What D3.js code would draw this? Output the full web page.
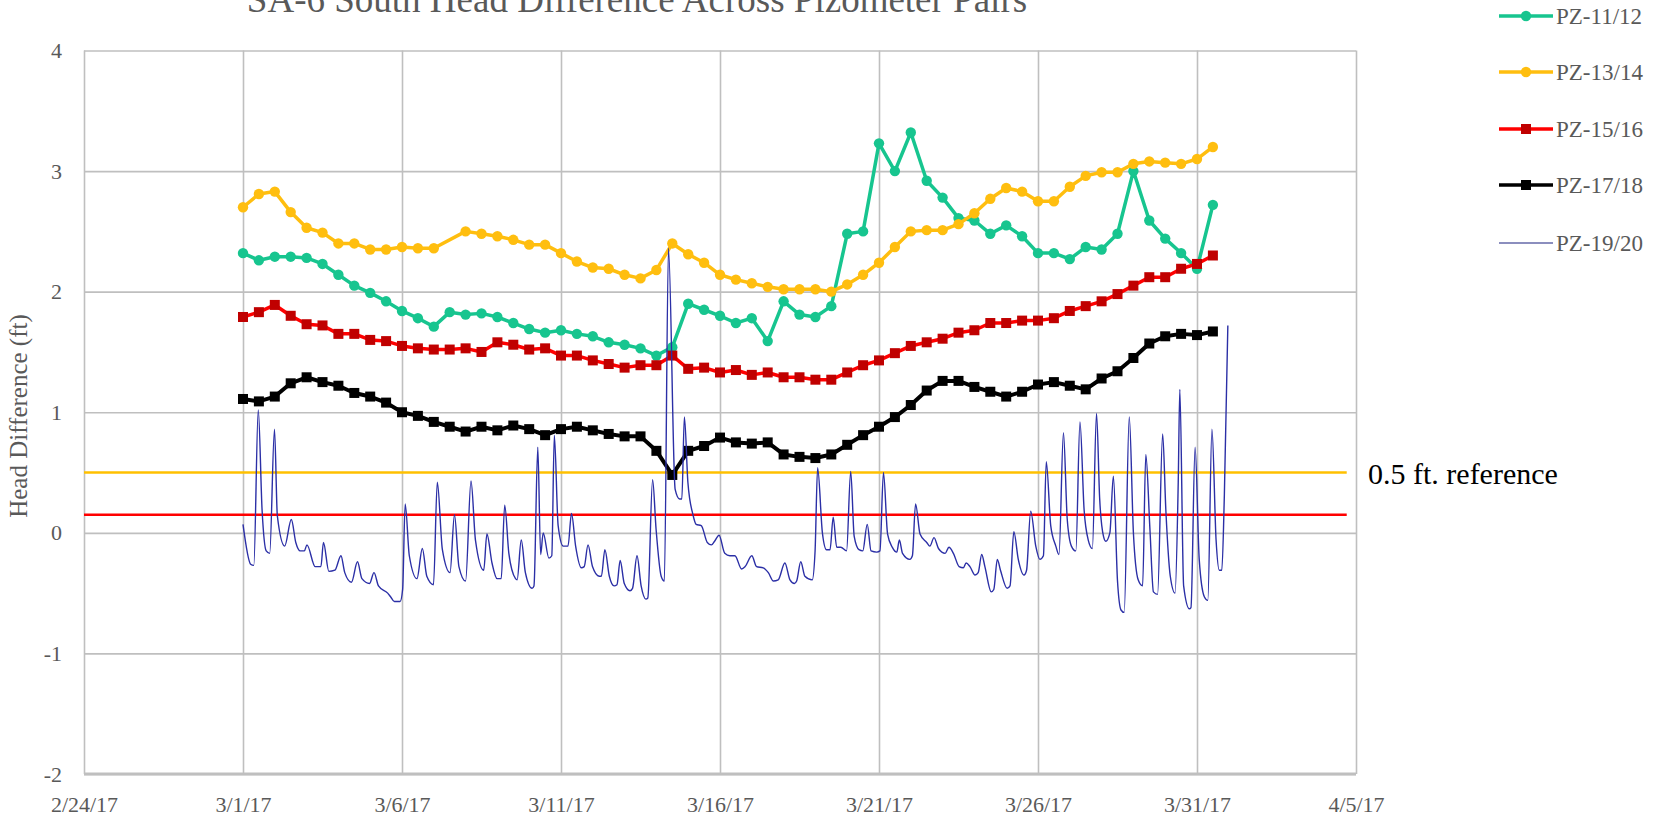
<!DOCTYPE html>
<html>
<head>
<meta charset="utf-8">
<script src="https://cdn.jsdelivr.net/npm/d3@7"></script>
<style>
  body { margin: 0; background: #ffffff; }
  svg { display: block; }
  text { font-family: "Liberation Serif", "Times New Roman", serif; }
</style>
</head>
<body>
<svg id="chart" width="1665" height="819"></svg>
<script>
// ---------------- data ----------------
const chartTitle = "SA-6 South Head Difference Across Pizometer Pairs";
const yAxisTitle = "Head Difference (ft)";
const xTickDates = ["2017-02-24", "2017-03-01", "2017-03-06", "2017-03-11", "2017-03-16",
                    "2017-03-21", "2017-03-26", "2017-03-31", "2017-04-05"];
const yTicks = [-2, -1, 0, 1, 2, 3, 4];

// twice-daily readings, starting 3/1/17 00:00
const sampleStart = "2017-03-01T00:00:00";
const sampleStepHours = 12;

const pz1112 = [2.32, 2.26, 2.29, 2.29, 2.28, 2.23, 2.14, 2.05, 1.99, 1.92, 1.84, 1.78, 1.71, 1.83, 1.81, 1.82,
                1.79, 1.74, 1.69, 1.66, 1.68, 1.65, 1.63, 1.58, 1.56, 1.53, 1.47, 1.54, 1.90, 1.85, 1.80, 1.74,
                1.78, 1.59, 1.92, 1.81, 1.79, 1.88, 2.48, 2.50, 3.23, 3.00, 3.32, 2.92, 2.78, 2.61, 2.59, 2.48,
                2.55, 2.46, 2.32, 2.32, 2.27, 2.37, 2.35, 2.48, 3.00, 2.59, 2.44, 2.32, 2.19, 2.72];
const pz1314 = [2.70, 2.81, 2.83, 2.66, 2.53, 2.49, 2.40, 2.40, 2.35, 2.35, 2.37, 2.36, 2.36, null, 2.50, 2.48,
                2.46, 2.43, 2.39, 2.39, 2.32, 2.25, 2.20, 2.19, 2.14, 2.11, 2.18, 2.40, 2.31, 2.24, 2.14, 2.10,
                2.07, 2.04, 2.02, 2.02, 2.02, 2.00, 2.06, 2.14, 2.24, 2.37, 2.50, 2.51, 2.51, 2.56, 2.65, 2.77,
                2.86, 2.83, 2.75, 2.75, 2.87, 2.96, 2.99, 2.99, 3.06, 3.08, 3.07, 3.06, 3.10, 3.20];
const pz1516 = [1.79, 1.83, 1.89, 1.80, 1.73, 1.72, 1.65, 1.65, 1.60, 1.59, 1.55, 1.53, 1.52, 1.52, 1.53, 1.50,
                1.58, 1.56, 1.52, 1.53, 1.47, 1.47, 1.43, 1.40, 1.37, 1.39, 1.39, 1.47, 1.36, 1.37, 1.33, 1.35,
                1.31, 1.33, 1.29, 1.29, 1.27, 1.27, 1.33, 1.39, 1.43, 1.49, 1.55, 1.58, 1.61, 1.66, 1.68, 1.74,
                1.74, 1.76, 1.76, 1.78, 1.84, 1.88, 1.92, 1.98, 2.05, 2.12, 2.12, 2.19, 2.23, 2.30];
const pz1718 = [1.11, 1.09, 1.13, 1.24, 1.29, 1.25, 1.22, 1.16, 1.13, 1.08, 1.00, 0.97, 0.92, 0.88, 0.84, 0.88,
                0.85, 0.89, 0.86, 0.81, 0.86, 0.88, 0.85, 0.82, 0.80, 0.80, 0.68, 0.48, 0.68, 0.72, 0.79, 0.75,
                0.74, 0.75, 0.65, 0.63, 0.62, 0.65, 0.73, 0.81, 0.88, 0.96, 1.06, 1.18, 1.26, 1.26, 1.21, 1.17,
                1.13, 1.17, 1.23, 1.25, 1.22, 1.19, 1.28, 1.34, 1.45, 1.57, 1.63, 1.65, 1.64, 1.67];

// continuous logger record for PZ-19/20: days after 3/1/17 00:00, and head difference
const pz1920Days = [0, 0.24, 0.34, 0.48, 0.60, 0.73, 0.84, 0.99, 1.08, 1.31, 1.52, 1.66, 1.80, 1.93, 2.01, 2.27,
  2.45, 2.53, 2.70, 2.89, 3.08, 3.20, 3.41, 3.60, 3.74, 3.98, 4.12, 4.26, 4.55, 4.64, 4.76, 4.94, 5.02, 5.10,
  5.23, 5.47, 5.64, 5.78, 5.99, 6.11, 6.27, 6.51, 6.65, 6.79, 7.00, 7.17, 7.31, 7.57, 7.67, 7.83, 7.99, 8.12,
  8.23, 8.36, 8.57, 8.62, 8.75, 8.88, 9.09, 9.15, 9.27, 9.36, 9.44, 9.62, 9.71, 9.79, 9.91, 10.07, 10.22, 10.33,
  10.46, 10.64, 10.73, 10.85, 10.99, 11.20, 11.27, 11.38, 11.52, 11.67, 11.76, 11.86, 11.99, 12.17, 12.25, 12.39,
  12.52, 12.67, 12.73, 12.88, 12.99, 13.15, 13.25, 13.38, 13.59, 13.73, 13.80, 13.88, 13.99, 14.15, 14.25, 14.41,
  14.60, 14.73, 14.83, 14.97, 15.15, 15.31, 15.47, 15.68, 15.79, 16.00, 16.15, 16.36, 16.52, 16.68, 16.83, 17.04,
  17.20, 17.34, 17.41, 17.54, 17.67, 17.90, 17.99, 18.07, 18.22, 18.35, 18.46, 18.56, 18.67, 18.80, 18.98, 19.11,
  19.22, 19.37, 19.49, 19.63, 19.75, 19.93, 20.03, 20.14, 20.27, 20.42, 20.56, 20.64, 20.74, 20.97, 21.05, 21.15,
  21.29, 21.50, 21.60, 21.73, 21.87, 22.08, 22.20, 22.34, 22.52, 22.65, 22.74, 22.86, 23.02, 23.12, 23.23, 23.33,
  23.53, 23.61, 23.72, 23.82, 24.03, 24.12, 24.24, 24.38, 24.56, 24.64, 24.77, 24.93, 25.06, 25.17, 25.26, 25.40,
  25.56, 25.66, 25.80, 25.92, 26.05, 26.19, 26.32, 26.45, 26.58, 26.71, 26.84, 26.94, 27.06, 27.13, 27.26, 27.37,
  27.50, 27.61, 27.71, 27.87, 28.00, 28.15, 28.29, 28.39, 28.52, 28.63, 28.76, 28.92, 29.02, 29.16, 29.31, 29.41,
  29.46, 29.58, 29.76, 29.81, 29.94, 30.07, 30.23, 30.34, 30.47, 30.60, 30.70, 30.78, 30.86, 30.97];
const pz1920Values = [0.07, -0.26, -0.27, 1.02, 0.19, -0.15, -0.17, 0.86, 0.14, -0.11, 0.11, -0.08, -0.15, -0.15, -0.10, -0.28,
  -0.28, -0.08, -0.32, -0.31, -0.19, -0.33, -0.41, -0.24, -0.38, -0.42, -0.33, -0.44, -0.50, -0.53, -0.57, -0.57, -0.47, 0.24,
  -0.19, -0.38, -0.13, -0.36, -0.43, 0.42, -0.14, -0.33, 0.15, -0.28, -0.40, 0.43, -0.06, -0.31, -0.01, -0.25, -0.38, -0.38,
  0.23, -0.17, -0.38, -0.39, -0.06, -0.33, -0.46, -0.44, 0.71, -0.18, 0.00, -0.21, -0.19, 0.81, 0.06, -0.11, -0.11, 0.16,
  -0.11, -0.29, -0.28, -0.10, -0.28, -0.36, -0.36, -0.14, -0.36, -0.44, -0.43, -0.23, -0.42, -0.48, -0.46, -0.19,
  -0.44, -0.55, -0.54, 0.44, 0.03, -0.36, -0.40, 2.36, 0.36, 0.28, 0.28, 0.96, 0.42, 0.15, 0.07, 0.06,
  -0.08, -0.10, -0.07, -0.02, -0.17, -0.19, -0.19, -0.30, -0.28, -0.19, -0.28, -0.29, -0.33, -0.40, -0.39, -0.25,
  -0.39, -0.42, -0.40, -0.24, -0.36, -0.39, -0.15, 0.54, 0.00, -0.14, -0.14, 0.13, -0.12, -0.12, -0.15, 0.51,
  -0.03, -0.14, -0.15, 0.07, -0.15, -0.16, -0.15, 0.50, -0.01, -0.12, -0.16, -0.06, -0.17, -0.22, -0.19, 0.24,
  -0.01, -0.08, -0.11, -0.04, -0.13, -0.17, -0.12, -0.17, -0.28, -0.29, -0.25, -0.28, -0.35, -0.33, -0.18, -0.28,
  -0.49, -0.47, -0.22, -0.31, -0.46, -0.44, 0.01, -0.22, -0.35, -0.31, 0.18, -0.11, -0.22, -0.19, 0.59, 0.06,
  -0.11, -0.18, 0.83, 0.11, -0.11, -0.15, 0.92, 0.19, -0.06, -0.13, 0.99, 0.28, -0.03, -0.07, 0.00, 0.47,
  -0.40, -0.64, -0.66, 0.96, 0.00, -0.39, -0.44, 0.65, 0.03, -0.49, -0.51, 0.82, 0.19, -0.36, -0.50, 0.42,
  1.19, -0.44, -0.63, -0.62, 0.71, -0.22, -0.53, -0.56, 0.86, -0.06, -0.31, -0.31, 0.31, 1.72];

// horizontal reference lines
const refValues = [0.5, 0.15];
const refColors = ["#FFC000", "#FF0000"];
const refStart = "2017-02-24T00:00:00";
const refEnd = "2017-04-04T17:00:00";
const refLabel = "0.5 ft. reference";

const seriesNames = ["PZ-11/12", "PZ-13/14", "PZ-15/16", "PZ-17/18", "PZ-19/20"];
const lineColors = ["#17C58F", "#FFBE0F", "#FF0000", "#000000", "#2B2FA6"];
const markerColors = ["#17C58F", "#FFBE0F", "#C00000", "#000000", null];
const markerShapes = ["circle", "circle", "square", "square", null];

// ---------------- layout ----------------
const plot = { left: 84, right: 1356, top: 50.5, bottom: 774 };
const svg = d3.select("#chart");
const parse = d3.isoParse;
const fmt = d3.timeFormat("%-m/%-d/%y");

const x = d3.scaleTime()
  .domain([new Date(2017, 1, 24), new Date(2017, 3, 5)])
  .range([plot.left, plot.right]);
const y = d3.scaleLinear()
  .domain([d3.min(yTicks), d3.max(yTicks)])
  .range([plot.bottom, plot.top]);

const gridColor = "#BFBFBF";
const textColor = "#595959";

// horizontal grid + y tick labels (plain hyphen for negatives)
const yAxis = svg.append("g")
  .attr("transform", `translate(${plot.left},0)`)
  .call(d3.axisLeft(y).tickValues(yTicks).tickFormat(d => String(d))
    .tickSize(-(plot.right - plot.left)).tickPadding(22));
yAxis.select(".domain").remove();
yAxis.selectAll(".tick line").attr("stroke", gridColor).attr("stroke-width", 1.6);
yAxis.selectAll(".tick text").attr("fill", textColor).attr("font-size", 22)
  .style("font-family", '"Liberation Serif", "Times New Roman", serif');

// vertical grid + x tick labels
const xAxis = svg.append("g")
  .attr("transform", `translate(0,${plot.bottom})`)
  .call(d3.axisBottom(x).tickValues(xTickDates.map(parse)).tickFormat(fmt)
    .tickSize(-(plot.bottom - plot.top)).tickPadding(22));
xAxis.select(".domain").remove();
xAxis.selectAll(".tick line").attr("stroke", gridColor).attr("stroke-width", 1.6);
xAxis.selectAll(".tick text").attr("fill", textColor).attr("font-size", 22)
  .style("font-family", '"Liberation Serif", "Times New Roman", serif');

// heavier baseline at the bottom of the plot
svg.append("line")
  .attr("x1", plot.left).attr("x2", plot.right)
  .attr("y1", y(d3.min(yTicks))).attr("y2", y(d3.min(yTicks)))
  .attr("stroke", gridColor).attr("stroke-width", 3);

// reference lines
svg.append("g").selectAll("line").data(refValues).join("line")
  .attr("x1", x(parse(refStart))).attr("x2", x(parse(refEnd)))
  .attr("y1", d => y(d)).attr("y2", d => y(d))
  .attr("stroke", (d, i) => refColors[i]).attr("stroke-width", 2.4);

svg.append("text")
  .attr("x", 1368).attr("y", y(refValues[0]) + 11)
  .attr("font-size", 30).attr("fill", "#000")
  .text(refLabel);

// twice-daily series
const t0 = parse(sampleStart);
const toPoints = vals => vals.map((v, i) => ({ t: d3.timeHour.offset(t0, i * sampleStepHours), v }))
  .filter(d => d.v !== null);
const dailySeries = [pz1112, pz1314, pz1516, pz1718].map(toPoints);

const line = d3.line().x(d => x(d.t)).y(d => y(d.v));

const seriesG = svg.append("g");
dailySeries.forEach((pts, k) => {
  const g = seriesG.append("g");
  g.append("path").datum(pts)
    .attr("d", line).attr("fill", "none")
    .attr("stroke", lineColors[k]).attr("stroke-width", k === 3 ? 4 : 3.5)
    .attr("stroke-linejoin", "round");
  if (markerShapes[k] === "circle") {
    g.selectAll("circle").data(pts).join("circle")
      .attr("cx", d => x(d.t)).attr("cy", d => y(d.v)).attr("r", 5.2)
      .attr("fill", markerColors[k]);
  } else {
    g.selectAll("rect").data(pts).join("rect")
      .attr("x", d => x(d.t) - 5).attr("y", d => y(d.v) - 5)
      .attr("width", 10).attr("height", 10)
      .attr("fill", markerColors[k]);
  }
});

// PZ-19/20 logger trace, smoothed between recorded vertices
const loggerPts = pz1920Days.map((d, i) => ({ t: new Date(+t0 + d * 864e5), v: pz1920Values[i] }));
const loggerLine = d3.line().x(d => x(d.t)).y(d => y(d.v)).curve(d3.curveMonotoneX);
svg.append("path").datum(loggerPts)
  .attr("d", loggerLine).attr("fill", "none")
  .attr("stroke", lineColors[4]).attr("stroke-width", 1.4)
  .attr("stroke-linejoin", "round");

// title (runs off the top edge)
svg.append("text")
  .attr("x", 637).attr("y", 12).attr("text-anchor", "middle")
  .attr("font-size", 37).attr("fill", textColor)
  .text(chartTitle);

// y axis title
svg.append("text")
  .attr("transform", "translate(27,416) rotate(-90)")
  .attr("text-anchor", "middle")
  .attr("font-size", 25).attr("fill", textColor)
  .text(yAxisTitle);

// legend
const legendRows = [16, 72, 129, 185, 243];
const legend = svg.append("g");
seriesNames.forEach((name, k) => {
  const cy = legendRows[k];
  const g = legend.append("g");
  g.append("line").attr("x1", 1499).attr("x2", 1553).attr("y1", cy).attr("y2", cy)
    .attr("stroke", k === 4 ? "#6468A8" : lineColors[k]).attr("stroke-width", k === 4 ? 1.3 : 3.5);
  if (markerShapes[k] === "circle") {
    g.append("circle").attr("cx", 1526).attr("cy", cy).attr("r", 5.2).attr("fill", markerColors[k]);
  } else if (markerShapes[k] === "square") {
    g.append("rect").attr("x", 1521).attr("y", cy - 5).attr("width", 10).attr("height", 10)
      .attr("fill", markerColors[k]);
  }
  g.append("text").attr("x", 1556).attr("y", cy + 8)
    .attr("font-size", 23).attr("fill", textColor).text(name);
});
</script>
</body>
</html>
